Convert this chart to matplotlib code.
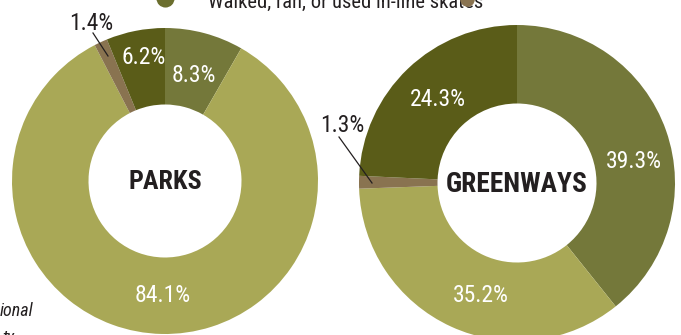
"""Two donut charts: how people used parks vs greenways."""

import matplotlib
matplotlib.use("Agg")
import matplotlib.pyplot as plt
from matplotlib import font_manager as fm

# data
activity_colors = ["#74783A", "#A9A856", "#897350", "#5A5C18"]
parks_values = [8.3, 84.1, 1.4, 6.2]
greenways_values = [39.3, 35.2, 1.3, 24.3]
parks_labels = ["8.3%", "84.1%", "1.4%", "6.2%"]
greenways_labels = ["39.3%", "35.2%", "1.3%", "24.3%"]
legend_text = "Walked, ran, or used in-line skates"

W, H = 681, 335
DARK = "#231F20"

# pick a narrow face if one is installed
faces = fm.fontManager.ttflist
NARROW, STRETCH = "DejaVu Sans", "normal"
for want in ["Liberation Sans Narrow", "Roboto Condensed", "Open Sans Condensed",
             "Noto Sans Condensed", "DejaVu Sans Condensed"]:
    if any(f.name == want for f in faces):
        NARROW = want
        break


def Y(y):
    # pixel row (top = 0) -> data y
    return H - y


fig = plt.figure(figsize=(W / 100, H / 100), dpi=100)
ax = fig.add_axes([0, 0, 1, 1])
fitted = []


def label(x, y, s, width, size, **kw):
    # text whose width is brought close to the reference width
    t = ax.text(x, Y(y), s, family=NARROW, fontstretch=STRETCH, fontsize=size, **kw)
    fitted.append((t, width, size))
    return t


donuts = [
    # values, labels, center px, outer r, inner r, title, title width, label px, leader
    (parks_values, parks_labels, (165, 181), 153, 76.5, "PARKS", 74,
     [(194, 75), (163, 296), None, (144, 58)], ((91, 23), (93, 33), (108, 56))),
    (greenways_values, greenways_labels, (517, 183), 158, 79.5, "GREENWAYS", 142,
     [(634, 162), (481, 296), None, (438, 100)], ((342, 125), (339, 137), (372, 183))),
]

for vals, labels, (cx, cy), R, r, title, tw, lab_pos, leader in donuts:
    ax.pie(vals, colors=activity_colors, startangle=90, counterclock=False,
           center=(cx, Y(cy)), radius=R,
           wedgeprops=dict(width=R - r, linewidth=0))
    label(cx, cy + 1, title, tw, 23, ha="center", va="center",
          fontweight="bold", color=DARK)
    for lab, pos in zip(labels, lab_pos):
        if pos is None:
            continue
        label(pos[0], pos[1], lab, 11.4 * len(lab), 17, ha="center",
              va="center", color="white")
    # small slice: label outside with a leader line
    small = [l for l, p in zip(labels, lab_pos) if p is None][0]
    (tx, ty), (x0, y0), (x1, y1) = leader
    label(tx, ty, small, 44, 17, ha="center", va="center", color=DARK)
    ax.plot([x0, x1], [Y(y0), Y(y1)], color=DARK, linewidth=0.9)

# legend row, cut off by the top edge
ax.scatter([165], [Y(-2)], s=170, color="#6B6E2E", linewidths=0, clip_on=False)
label(208, 7.5, legend_text, 275, 16, ha="left", va="baseline", color=DARK)
ax.scatter([467], [Y(-1)], s=110, color=activity_colors[2], linewidths=0,
           zorder=5)

# footnote fragments at the bottom left
label(0, 316, "ional", 34, 13, ha="left", va="baseline", style="italic",
      color=DARK)
label(2, 342, "ty", 12, 13, ha="left", va="baseline", style="italic", color=DARK)

ax.set_xlim(0, W)
ax.set_ylim(0, H)
ax.axis("off")

renderer = fig.canvas.get_renderer()
for t, width, size in fitted:
    w = t.get_window_extent(renderer).width
    t.set_fontsize(min(size, size * width / w))

fig.savefig("out.png", dpi=100)
